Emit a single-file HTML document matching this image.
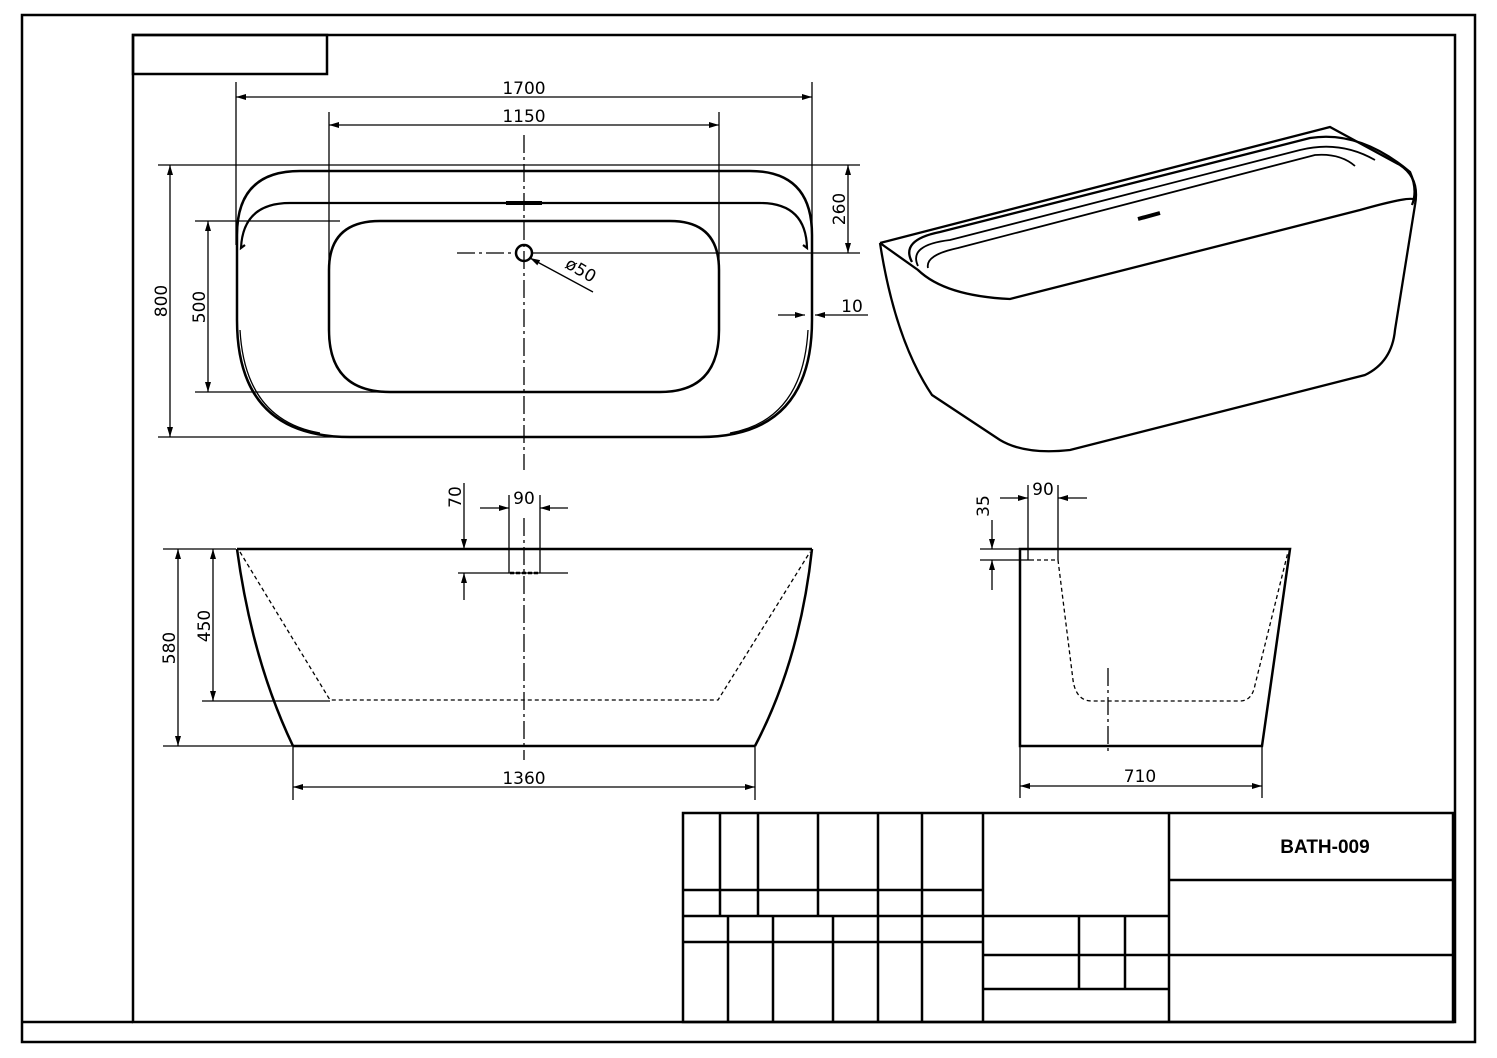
<!DOCTYPE html>
<html><head><meta charset="utf-8"><style>
html,body{margin:0;padding:0;background:#fff}
svg{display:block}
text{font-family:"Liberation Sans",sans-serif;fill:#000}
.d{font-family:"DejaVu Sans","Liberation Sans",sans-serif;font-size:17px}
</style></head><body>
<svg width="1497" height="1058" viewBox="0 0 1497 1058" xmlns="http://www.w3.org/2000/svg">
<defs>
<marker id="a" markerWidth="10" markerHeight="6" refX="10" refY="3" orient="auto-start-reverse" markerUnits="userSpaceOnUse"><path d="M0,0 L10,3 L0,6 Z" fill="#000"/></marker>
</defs>
<g fill="none" stroke="#000">
<!-- frames -->
<rect x="22" y="15" width="1453" height="1027" stroke-width="2.5"/>
<rect x="133" y="35" width="1322" height="987" stroke-width="2.5"/>
<line x1="22" y1="1022" x2="133" y2="1022" stroke-width="2.5"/>
<rect x="133" y="35" width="194" height="39" stroke-width="2.5"/>

<!-- TOP VIEW -->
<g stroke-width="1.3">
<line x1="236" y1="82" x2="236" y2="245"/><line x1="812" y1="82" x2="812" y2="320"/>
<line x1="236" y1="97" x2="812" y2="97" marker-start="url(#a)" marker-end="url(#a)"/>
<line x1="329" y1="112" x2="329" y2="262"/><line x1="719" y1="112" x2="719" y2="262"/>
<line x1="329" y1="125" x2="719" y2="125" marker-start="url(#a)" marker-end="url(#a)"/>
<line x1="158" y1="165" x2="860" y2="165"/><line x1="158" y1="437" x2="350" y2="437"/>
<line x1="170" y1="165" x2="170" y2="437" marker-start="url(#a)" marker-end="url(#a)"/>
<line x1="195" y1="221" x2="340" y2="221"/><line x1="195" y1="392" x2="380" y2="392"/>
<line x1="208" y1="221" x2="208" y2="392" marker-start="url(#a)" marker-end="url(#a)"/>
<line x1="533" y1="253" x2="860" y2="253"/>
<line x1="848" y1="165" x2="848" y2="253" marker-start="url(#a)" marker-end="url(#a)"/>
<line x1="778" y1="315" x2="805" y2="315" marker-end="url(#a)"/>
<line x1="868" y1="315" x2="815" y2="315" marker-end="url(#a)"/>
<line x1="530" y1="258" x2="593" y2="292" marker-start="url(#a)"/>
<line x1="524" y1="135" x2="524" y2="470" stroke-dasharray="18,4,3,4"/>
<line x1="457" y1="253" x2="516" y2="253" stroke-dasharray="18,4,3,4"/>
</g>
<path d="M300,171 H750 Q812,171 812,235 V320 Q812,437 700,437 H350 Q237,437 237,320 V235 Q237,171 300,171 Z" stroke-width="2.5"/>
<path d="M240,330 Q245,420 320,433 M808,330 Q803,420 730,433" stroke-width="1.3"/>
<path d="M245,245 L241,248 Q243,203 290,203 H760 Q806,203 807,248 L803,245" stroke-width="2.2"/>
<line x1="506" y1="203" x2="542" y2="203" stroke-width="4"/>
<path d="M380,221 H670 Q719,221 719,270 V330 Q719,392 660,392 H390 Q329,392 329,330 V270 Q329,221 380,221 Z" stroke-width="2.5"/>
<circle cx="524" cy="253" r="8" stroke-width="2.5"/>

<!-- PERSPECTIVE -->
<g stroke-width="2.3">
<path d="M880,243 L1330,127 L1400,165 Q1420,178 1415,205"/>
<path d="M880,243 Q895,340 932,395 L1000,440 Q1025,455 1070,450 L1365,375 Q1392,362 1395,330 L1415,205"/>
<path d="M880,243 L918,270 Q945,296 1010,299 L1360,210 Q1413,195 1415,200"/>
<path d="M912,262 Q900,240 940,232 L1310,138 Q1360,130 1410,172 Q1418,190 1412,205"/>
<path d="M918,266 Q908,245 950,240 L1300,150 Q1340,140 1375,160" stroke-width="1.8"/>
<path d="M928,268 Q925,255 958,248 L1315,155 Q1340,153 1355,166" stroke-width="1.8"/>
<line x1="1138" y1="219" x2="1160" y2="213" stroke-width="4"/>
</g>

<!-- FRONT VIEW -->
<g stroke-width="1.3">
<line x1="163" y1="549" x2="236" y2="549"/><line x1="163" y1="746" x2="293" y2="746"/>
<line x1="178" y1="549" x2="178" y2="746" marker-start="url(#a)" marker-end="url(#a)"/>
<line x1="202" y1="701" x2="330" y2="701"/>
<line x1="213" y1="549" x2="213" y2="701" marker-start="url(#a)" marker-end="url(#a)"/>
<line x1="293" y1="746" x2="293" y2="800"/><line x1="755" y1="746" x2="755" y2="800"/>
<line x1="293" y1="787" x2="755" y2="787" marker-start="url(#a)" marker-end="url(#a)"/>
<line x1="464" y1="483" x2="464" y2="549" marker-end="url(#a)"/>
<line x1="464" y1="600" x2="464" y2="573" marker-end="url(#a)"/>
<line x1="458" y1="573" x2="568" y2="573"/>
<line x1="480" y1="508" x2="509" y2="508" marker-end="url(#a)"/>
<line x1="568" y1="508" x2="540" y2="508" marker-end="url(#a)"/>
<line x1="509" y1="495" x2="509" y2="573"/><line x1="540" y1="495" x2="540" y2="573"/>
<line x1="524" y1="518" x2="524" y2="760" stroke-dasharray="18,4,3,4"/>
<path d="M240,552 L330,700 H718 L810,552" stroke-dasharray="4,3"/>
<line x1="510" y1="573" x2="540" y2="573" stroke-dasharray="4,2" stroke-width="2.5"/>
</g>
<line x1="237" y1="549" x2="812" y2="549" stroke-width="2.5"/>
<line x1="293" y1="746" x2="755" y2="746" stroke-width="2.5"/>
<path d="M237,549 Q252,660 293,746 M812,549 Q800,660 755,746" stroke-width="2.5"/>

<!-- SIDE VIEW -->
<g stroke-width="1.3">
<line x1="980" y1="549" x2="1020" y2="549"/><line x1="980" y1="560" x2="1030" y2="560"/>
<line x1="992" y1="520" x2="992" y2="549" marker-end="url(#a)"/>
<line x1="992" y1="590" x2="992" y2="560" marker-end="url(#a)"/>
<line x1="1000" y1="498" x2="1028" y2="498" marker-end="url(#a)"/>
<line x1="1087" y1="498" x2="1058" y2="498" marker-end="url(#a)"/>
<line x1="1028" y1="485" x2="1028" y2="560"/><line x1="1058" y1="485" x2="1058" y2="560"/>
<line x1="1020" y1="746" x2="1020" y2="798"/><line x1="1262" y1="746" x2="1262" y2="798"/>
<line x1="1020" y1="786" x2="1262" y2="786" marker-start="url(#a)" marker-end="url(#a)"/>
<line x1="1108" y1="668" x2="1108" y2="755" stroke-dasharray="18,4,3,4"/>
<path d="M1030,560 H1058 L1073,680 Q1076,701 1092,701 H1240 Q1252,701 1255,685 L1288,552" stroke-dasharray="4,3"/>
</g>
<path d="M1020,746 V549 H1290 L1262,746 Z" stroke-width="2.5"/>

<!-- TITLE BLOCK -->
<g stroke-width="2.5">
<rect x="683" y="813" width="770" height="209"/>
<line x1="720" y1="813" x2="720" y2="916"/><line x1="758" y1="813" x2="758" y2="916"/>
<line x1="818" y1="813" x2="818" y2="916"/><line x1="878" y1="813" x2="878" y2="916"/>
<line x1="922" y1="813" x2="922" y2="916"/>
<line x1="983" y1="813" x2="983" y2="1022"/><line x1="1169" y1="813" x2="1169" y2="1022"/>
<line x1="683" y1="890" x2="983" y2="890"/>
<line x1="683" y1="916" x2="1169" y2="916"/>
<line x1="683" y1="942" x2="983" y2="942"/>
<line x1="728" y1="916" x2="728" y2="1022"/><line x1="773" y1="916" x2="773" y2="1022"/>
<line x1="833" y1="916" x2="833" y2="1022"/><line x1="878" y1="916" x2="878" y2="1022"/>
<line x1="922" y1="916" x2="922" y2="1022"/>
<line x1="983" y1="955" x2="1453" y2="955"/>
<line x1="983" y1="989" x2="1169" y2="989"/>
<line x1="1079" y1="916" x2="1079" y2="989"/><line x1="1125" y1="916" x2="1125" y2="989"/>
<line x1="1169" y1="880" x2="1453" y2="880"/>
</g>
</g>

<!-- TEXT -->
<text class="d" x="524" y="94" text-anchor="middle">1700</text>
<text class="d" x="524" y="122" text-anchor="middle">1150</text>
<text class="d" transform="translate(167,301) rotate(-90)" text-anchor="middle">800</text>
<text class="d" transform="translate(205,307) rotate(-90)" text-anchor="middle">500</text>
<text class="d" transform="translate(845,209) rotate(-90)" text-anchor="middle">260</text>
<text class="d" x="852" y="312" text-anchor="middle">10</text>
<text class="d" transform="translate(578,275) rotate(30)" text-anchor="middle">ø50</text>
<text class="d" transform="translate(461,497) rotate(-90)" text-anchor="middle">70</text>
<text class="d" x="524" y="504" text-anchor="middle">90</text>
<text class="d" transform="translate(175,648) rotate(-90)" text-anchor="middle">580</text>
<text class="d" transform="translate(210,626) rotate(-90)" text-anchor="middle">450</text>
<text class="d" x="524" y="784" text-anchor="middle">1360</text>
<text class="d" transform="translate(989,506) rotate(-90)" text-anchor="middle">35</text>
<text class="d" x="1043" y="495" text-anchor="middle">90</text>
<text class="d" x="1140" y="782" text-anchor="middle">710</text>
<text x="1325" y="853" text-anchor="middle" font-size="19" font-weight="bold">BATH-009</text>
</svg>
</body></html>
